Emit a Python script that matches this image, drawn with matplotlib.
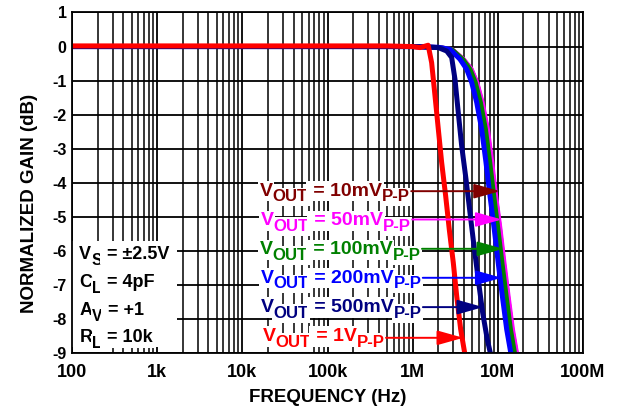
import matplotlib
matplotlib.use("Agg")
import matplotlib.pyplot as plt
from matplotlib.patches import Rectangle
from matplotlib.ticker import FixedLocator, FixedFormatter, NullFormatter

plt.rcParams['font.family'] = ['Liberation Sans', 'DejaVu Sans']
plt.rcParams['font.weight'] = 'bold'
plt.rcParams['axes.unicode_minus'] = False

# ---- measured small-signal / large-signal responses (Hz, dB) ----
freq_10mv = [100, 1e3, 1e4, 1e5, 1e6, 2.0e6, 2.88e6, 3.92e6, 4.85e6, 5.65e6, 6.5e6,
             7.5e6, 8.4e6, 9.4e6, 10.55e6, 11.7e6, 13.1e6, 14.7e6, 16.6e6]
gain_10mv = [0, 0, 0, 0, 0, -0.02, -0.08, -0.37, -0.66, -1.05, -1.64,
             -2.42, -3.40, -4.38, -5.36, -6.34, -7.32, -8.29, -9.03]

freq_50mv = [100, 1e3, 1e4, 1e5, 1e6, 2.0e6, 2.9e6, 3.95e6, 4.9e6, 5.7e6, 6.6e6,
             7.6e6, 8.55e6, 9.5e6, 10.7e6, 11.9e6, 13.3e6, 14.95e6, 16.8e6]
gain_50mv = [0, 0, 0, 0, 0, -0.02, -0.08, -0.37, -0.66, -1.05, -1.64,
             -2.42, -3.40, -4.38, -5.36, -6.34, -7.32, -8.29, -9.03]

freq_100mv = [100, 1e3, 1e4, 1e5, 1e6, 2.0e6, 2.88e6, 3.88e6, 4.73e6, 5.47e6, 6.29e6,
              7.20e6, 8.09e6, 9.01e6, 10.1e6, 11.25e6, 12.6e6, 14.15e6, 15.9e6]
gain_100mv = [0, 0, 0, 0, 0, -0.02, -0.08, -0.37, -0.66, -1.05, -1.64,
              -2.42, -3.40, -4.38, -5.36, -6.34, -7.32, -8.29, -9.03]

freq_200mv = [100, 1e3, 1e4, 1e5, 1e6, 2.0e6, 2.74e6, 3.59e6, 4.30e6, 4.93e6, 5.65e6,
              6.46e6, 7.26e6, 8.09e6, 9.08e6, 10.1e6, 11.3e6, 12.7e6, 14.3e6]
gain_200mv = [0, 0, 0, 0, 0, -0.02, -0.08, -0.37, -0.66, -1.05, -1.64,
              -2.42, -3.40, -4.38, -5.36, -6.34, -7.32, -8.29, -9.03]

freq_500mv = [100, 1e3, 1e4, 1e5, 1e6, 2.0e6, 2.51e6, 2.87e6, 3.14e6, 3.43e6, 3.76e6,
              4.23e6, 4.71e6, 5.25e6, 5.89e6, 6.63e6, 7.52e6, 8.24e6]
gain_500mv = [0, 0, 0, 0, 0, -0.03, -0.13, -0.32, -0.96, -1.93, -2.91,
              -3.89, -4.87, -5.85, -6.83, -7.80, -8.59, -9.03]

freq_1v = [100, 1e3, 1e4, 1e5, 5e5, 1.0e6, 1.22e6, 1.52e6, 1.67e6, 1.83e6, 2.00e6,
           2.19e6, 2.44e6, 2.69e6, 3.00e6, 3.29e6, 3.66e6, 4.11e6]
gain_1v = [0.02, 0.02, 0.02, 0.02, 0.02, 0.0, -0.03, 0.04, -0.47, -1.45, -2.42,
           -3.40, -4.38, -5.36, -6.34, -7.32, -8.29, -9.03]

# axis ticks
x_ticks = [1e2, 1e3, 1e4, 1e5, 1e6, 1e7, 1e8]
x_tick_labels = ['100', '1k', '10k', '100k', '1M', '10M', '100M']
y_ticks = [1, 0, -1, -2, -3, -4, -5, -6, -7, -8, -9]
y_tick_labels = ['1', '0', '-1', '-2', '-3', '-4', '-5', '-6', '-7', '-8', '-9']

# legend entries: amplitude text, colour, text baseline (dB), arrow height (dB), arrow tip (Hz)
amp_labels = ['10mV', '50mV', '100mV', '200mV', '500mV', '1V']
amp_colors = ['#800000', '#FF00FF', '#008000', '#0000FF', '#000080', '#FF0000']
amp_baselines = [-4.37, -5.24, -6.09, -6.92, -7.79, -8.64]
arrow_levels = [-4.24, -5.07, -5.93, -6.78, -7.64, -8.54]
arrow_tips = [10.6e6, 11.1e6, 11.6e6, 11.1e6, 6.74e6, 3.93e6]
amp_text_x = [16e3, 16.4e3, 16e3, 16.4e3, 16.4e3, 17.3e3]

# test conditions
cond_main = ['V', 'C', 'A', 'R']
cond_sub = ['S', 'L', 'V', 'L']
cond_rest = [' = \u00b12.5V', ' = 4pF', ' = +1', ' = 10k']
cond_baselines = [-6.22, -7.05, -7.87, -8.66]
cond_x = 122

fig = plt.figure(figsize=(6.17, 4.12), dpi=100)
ax = fig.add_axes([0.1167, 0.1420, 0.8282, 0.8277])
ax.set_xscale('log')
ax.set_xlim(1e2, 1e8)
ax.set_ylim(-9, 1)
ax.set_axisbelow(True)

ax.xaxis.set_major_locator(FixedLocator(x_ticks))
ax.xaxis.set_major_formatter(FixedFormatter(x_tick_labels))
minor = [m * d for d in x_ticks[:-1] for m in range(2, 10)]
ax.xaxis.set_minor_locator(FixedLocator(minor))
ax.xaxis.set_minor_formatter(NullFormatter())
ax.yaxis.set_major_locator(FixedLocator(y_ticks))
ax.yaxis.set_major_formatter(FixedFormatter(y_tick_labels))

ax.grid(which='major', axis='both', color='black', lw=1.3)
ax.grid(which='minor', axis='x', color='black', lw=1.1)
ax.tick_params(axis='both', which='both', length=0)
ax.tick_params(axis='x', labelsize=13, pad=7.5)
ax.tick_params(axis='y', labelsize=11.5, pad=3.8)
for lab in ax.get_xticklabels() + ax.get_yticklabels():
    lab.set_fontweight('bold')
for sp in ax.spines.values():
    sp.set_linewidth(1.3)
    sp.set_zorder(7)

curves = [
    (freq_10mv, gain_10mv, '#800000', 3.2),
    (freq_50mv, gain_50mv, '#FF00FF', 3.2),
    (freq_100mv, gain_100mv, '#008000', 3.2),
    (freq_200mv, gain_200mv, '#0000FF', 3.6),
    (freq_500mv, gain_500mv, '#000080', 3.6),
    (freq_1v, gain_1v, '#FF0000', 3.6),
]
for f, g, c, w in curves:
    ax.plot(f, g, color=c, lw=w, solid_capstyle='butt', solid_joinstyle='round', zorder=2)


def compose(x, y, parts, color, size, sub_scale=0.86, sub_drop=4.2):
    """Write a run of text pieces, some of them lowered as subscripts."""
    prev = None
    for s, is_sub in parts:
        fs = size * sub_scale if is_sub else size
        dy = -sub_drop if is_sub else 0
        kw = dict(fontsize=fs, color=color, fontweight='bold', ha='left', va='baseline',
                  zorder=5, textcoords='offset points', xytext=(0, dy),
                  bbox=dict(fc='white', ec='none', pad=1.2))
        if prev is None:
            t = ax.annotate(s, xy=(x, y), xycoords='data', **kw)
        else:
            t = ax.annotate(s, xy=(1, y), xycoords=(prev, 'data'), **kw)
        prev = t
    return prev


# white panel behind the test conditions
ax.add_patch(Rectangle((0.0, 0.019), 0.205, 0.311, transform=ax.transAxes,
                       fc='white', ec='none', zorder=1.5))
for m, s, r, yb in zip(cond_main, cond_sub, cond_rest, cond_baselines):
    compose(cond_x, yb, [(m, False), (s, True), (r, False)], 'black', 13)

for lab, c, yb, ya, tip, xt in zip(amp_labels, amp_colors, amp_baselines,
                                   arrow_levels, arrow_tips, amp_text_x):
    last = compose(xt, yb, [('V', False), ('OUT', True), (' = ' + lab, False),
                            ('P-P', True)], c, 14)
    ax.annotate('', xy=(tip, ya), xycoords='data', xytext=(1, ya),
                textcoords=(last, 'data'),
                arrowprops=dict(arrowstyle='-|>,head_length=1.6,head_width=0.45',
                                color=c, lw=1.4, shrinkA=1, shrinkB=0,
                                mutation_scale=10),
                zorder=6)

fig.text(0.5308, 0.0364, 'FREQUENCY (Hz)', ha='center', va='center',
         fontsize=13.5, fontweight='bold')
fig.text(0.0486, 0.507, 'NORMALIZED GAIN (dB)', ha='center', va='center',
         rotation=90, fontsize=13.5, fontweight='bold')

fig.savefig('out.png', dpi=100)
